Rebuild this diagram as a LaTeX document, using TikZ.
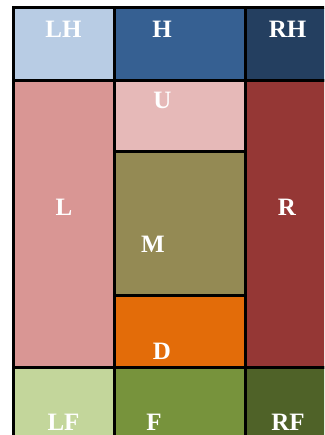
\documentclass[tikz,border=0pt]{standalone}
\usepackage{fontspec}
\setmainfont{Liberation Serif}
\definecolor{cLH}{HTML}{B8CCE4}
\definecolor{cH}{HTML}{366092}
\definecolor{cRH}{HTML}{243F60}
\definecolor{cL}{HTML}{D99694}
\definecolor{cU}{HTML}{E6B9B8}
\definecolor{cR}{HTML}{953735}
\definecolor{cM}{HTML}{948A54}
\definecolor{cD}{HTML}{E36C09}
\definecolor{cLF}{HTML}{C3D69B}
\definecolor{cF}{HTML}{77933C}
\definecolor{cRF}{HTML}{4F6228}
\tikzset{
  cell/.style={draw=black, line width=3bp, inner sep=0pt, outer sep=0pt},
  lbl/.style={text=white, font=\bfseries\fontsize{25bp}{25bp}\selectfont, anchor=base, inner sep=0pt}
}
\begin{document}
\begin{tikzpicture}[x=1bp,y=-1bp]
\useasboundingbox (0,0) rectangle (324,435);
\clip (0,0) rectangle (324,435);
% cells
\node[cell, fill=cLH, minimum width=100bp, minimum height=73bp] (LH) at (64,44.5) {};
\node[cell, fill=cH,  minimum width=131bp, minimum height=73bp] (H) at (179.5,44.5) {};
\node[cell, fill=cRH, minimum width=95bp,  minimum height=73bp] (RH) at (292.5,44.5) {};
\node[cell, fill=cL,  minimum width=100bp, minimum height=286bp] (L) at (64,224) {};
\node[cell, fill=cU,  minimum width=131bp, minimum height=71bp] (U) at (179.5,116.5) {};
\node[cell, fill=cM,  minimum width=131bp, minimum height=143bp] (M) at (179.5,223.5) {};
\node[cell, fill=cD,  minimum width=131bp, minimum height=72bp] (D) at (179.5,331) {};
\node[cell, fill=cR,  minimum width=95bp,  minimum height=286bp] (R) at (292.5,224) {};
\node[cell, fill=cLF, minimum width=100bp, minimum height=83bp] (LF) at (64,408.5) {};
\node[cell, fill=cF,  minimum width=131bp, minimum height=83bp] (F) at (179.5,408.5) {};
\node[cell, fill=cRF, minimum width=95bp,  minimum height=83bp] (RF) at (292.5,408.5) {};
% labels
\node[lbl] (tLH) at (63.5,38) {LH};
\node[lbl] (tH) at (162,38) {H};
\node[lbl] (tRH) at (287.5,38) {RH};
\node[lbl] (tU) at (162.5,109) {U};
\node[lbl] (tL) at (64,215.5) {L};
\node[lbl] (tR) at (287,215.5) {R};
\node[lbl] (tM) at (153,252) {M};
\node[lbl] (tD) at (162,359) {D};
\node[lbl] (tLF) at (63.5,430) {LF};
\node[lbl] (tF) at (154,430) {F};
\node[lbl] (tRF) at (288,430) {RF};
\end{tikzpicture}
\end{document}
